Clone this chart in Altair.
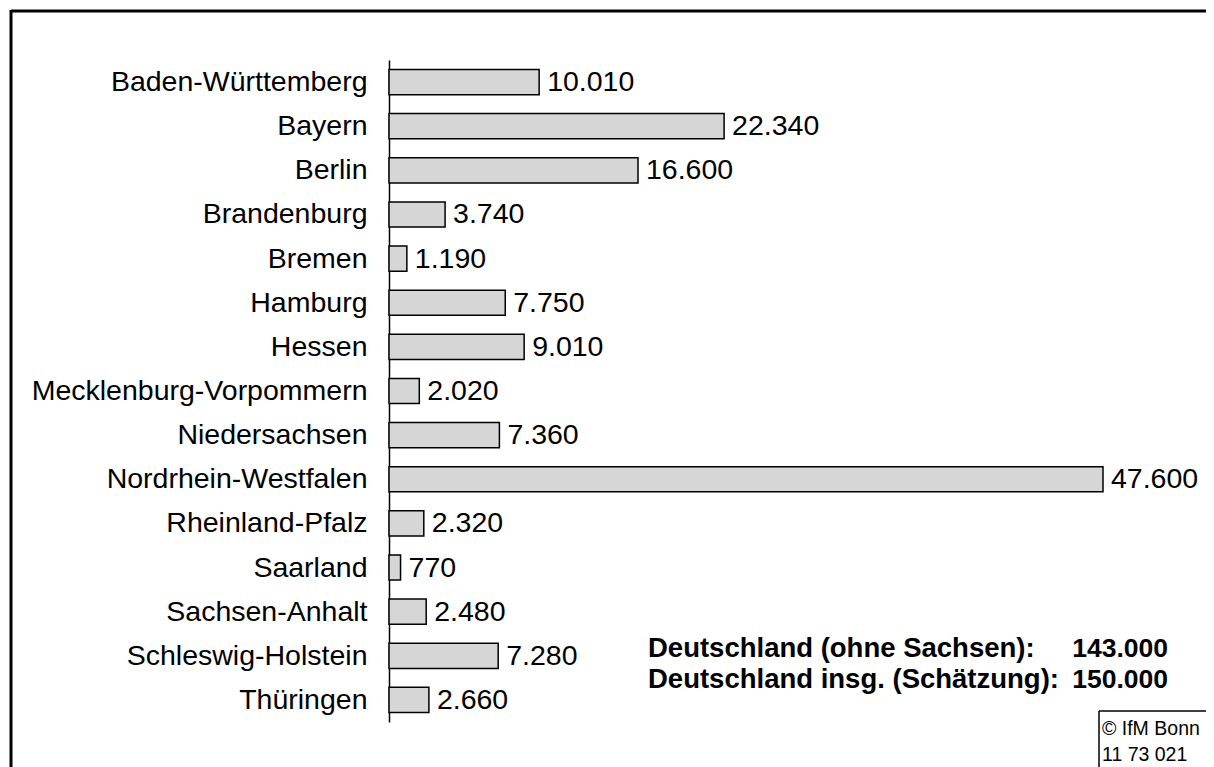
import altair as alt
import pandas as pd

states = ["Baden-Württemberg", "Bayern", "Berlin", "Brandenburg", "Bremen", "Hamburg",
          "Hessen", "Mecklenburg-Vorpommern", "Niedersachsen", "Nordrhein-Westfalen",
          "Rheinland-Pfalz", "Saarland", "Sachsen-Anhalt", "Schleswig-Holstein", "Thüringen"]
values = [10010, 22340, 16600, 3740, 1190, 7750, 9010, 2020, 7360, 47600, 2320, 770, 2480, 7280, 2660]

summary_labels = ["Deutschland (ohne Sachsen):", "Deutschland insg. (Schätzung):"]
summary_values = ["143.000", "150.000"]
source_lines = ["© IfM Bonn", "11 73 021"]

FONT = "Liberation Sans"
FS = 28.5

df = pd.DataFrame({"state": states, "value": values})
one = pd.DataFrame({"k": [0]})

W, H = 750, 662
PAD = {"left": 381, "top": 52, "right": 67, "bottom": 45}

base = alt.Chart(df).encode(
    y=alt.Y("state:N", sort=None, title=None,
            scale=alt.Scale(paddingInner=0.43, paddingOuter=0.215),
            axis=alt.Axis(ticks=False, tickSize=0, labelPadding=22, labelFontSize=FS,
                          labelFont=FONT, labelColor="black", domainColor="black",
                          domainWidth=1.5, labelLimit=500)),
)

bars = base.mark_bar(fill="#d6d6d6", stroke="black", strokeWidth=1.5).encode(
    x=alt.X("value:Q", scale=alt.Scale(domain=[0, 50000]), axis=None),
)

labels = base.transform_calculate(
    label="replace(format(datum.value, ','), ',', '.')"
).mark_text(align="left", baseline="middle", dx=8, fontSize=FS, font=FONT, color="black").encode(
    x=alt.X("value:Q"),
    text="label:N",
)

layers = [bars, labels]

sum_y = [657, 688]
sum_y = [y - 60 for y in sum_y]
for lab, val, yy in zip(summary_labels, summary_values, sum_y):
    layers.append(alt.Chart(one).mark_text(
        align="left", baseline="alphabetic", fontSize=27.5, fontWeight="bold",
        font=FONT, color="black").encode(
        x=alt.value(259), y=alt.value(yy), text=alt.value(lab)))
    layers.append(alt.Chart(one).mark_text(
        align="right", baseline="alphabetic", fontSize=26.5, fontWeight="bold",
        font=FONT, color="black").encode(
        x=alt.value(779), y=alt.value(yy), text=alt.value(val)))

src_y = [675, 701]
for t, yy in zip(source_lines, src_y):
    layers.append(alt.Chart(one).mark_text(
        align="left", baseline="alphabetic", fontSize=19.5, font=FONT, color="black").encode(
        x=alt.value(713), y=alt.value(yy), text=alt.value(t)))

# outer frame (top and left edges)
layers.append(alt.Chart(one).mark_rule(color="black", strokeWidth=3).encode(
    x=alt.value(-378), x2=alt.value(817), y=alt.value(-49)))
layers.append(alt.Chart(one).mark_rule(color="black", strokeWidth=3).encode(
    x=alt.value(-378), y=alt.value(-50), y2=alt.value(707)))
# source box
layers.append(alt.Chart(one).mark_rule(color="black", strokeWidth=1.5).encode(
    x=alt.value(710), x2=alt.value(817), y=alt.value(651)))
layers.append(alt.Chart(one).mark_rule(color="black", strokeWidth=1.5).encode(
    x=alt.value(710), y=alt.value(651), y2=alt.value(707)))

chart = alt.layer(*layers).properties(
    width=W, height=H, padding=PAD, autosize="none", background="white"
).configure_view(stroke=None)

chart.save("out.html", embed_options={"renderer": "svg", "actions": False})
